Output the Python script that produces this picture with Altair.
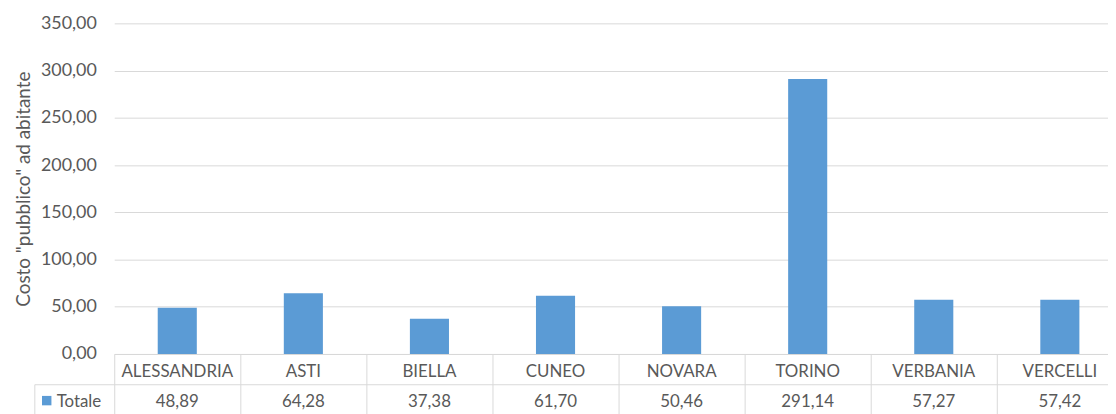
import altair as alt
import pandas as pd

categories = ["ALESSANDRIA", "ASTI", "BIELLA", "CUNEO", "NOVARA", "TORINO", "VERBANIA", "VERCELLI"]
values = [48.89, 64.28, 37.38, 61.70, 50.46, 291.14, 57.27, 57.42]
value_labels = ["48,89", "64,28", "37,38", "61,70", "50,46", "291,14", "57,27", "57,42"]
series_name = "Totale"
y_title = 'Costo "pubblico" ad abitante'

df = pd.DataFrame({"cat": categories, "val": values, "lab": value_labels})

W, H = 1001, 333
BAND_RANGE = 1016
FONT = "Lato"
GRAY = "#595959"
LINE = "#d9d9d9"
BAR = "#5B9BD5"

xscale = alt.Scale(domain=categories, range=[0, BAND_RANGE], paddingInner=0, paddingOuter=0)

base = alt.Chart(df)

bars = base.mark_bar(color=BAR, width=alt.RelativeBandSize(0.31)).encode(
    x=alt.X("cat:N", scale=xscale, sort=categories,
            axis=alt.Axis(title=None, labels=False, ticks=True, tickBand="extent",
                          tickSize=62, tickColor=LINE, domainColor=LINE, grid=False)),
    y=alt.Y("val:Q", scale=alt.Scale(domain=[0, 350], nice=False),
            axis=alt.Axis(title=y_title, values=list(range(0, 351, 50)),
                          labelExpr="replace(format(datum.value, '.2f'), '.', ',')",
                          labelFont=FONT, labelFontSize=18, labelColor=GRAY,
                          labelPadding=18, ticks=False, domain=False,
                          gridColor=LINE, titleFont=FONT, titleFontSize=19,
                          titleColor=GRAY, titleFontWeight="normal", titlePadding=7)),
)

cat_text = base.mark_text(font=FONT, fontSize=17, color=GRAY, baseline="middle").encode(
    x=alt.X("cat:N", scale=xscale, sort=categories),
    y=alt.value(H + 18),
    text="cat:N",
)

val_text = base.mark_text(font=FONT, fontSize=17, color=GRAY, baseline="middle").encode(
    x=alt.X("cat:N", scale=xscale, sort=categories),
    y=alt.value(H + 48),
    text="lab:N",
)

hline = alt.Chart(pd.DataFrame({"a": [0]})).mark_rule(color=LINE).encode(
    x=alt.value(-80), x2=alt.value(BAND_RANGE), y=alt.value(H + 31)
)
vline = alt.Chart(pd.DataFrame({"a": [0]})).mark_rule(color=LINE).encode(
    x=alt.value(-80), y=alt.value(H + 31), y2=alt.value(H + 70)
)
legend_sq = alt.Chart(pd.DataFrame({"a": [0]})).mark_square(color=BAR, opacity=1, size=90).encode(
    x=alt.value(-68), y=alt.value(H + 47)
)
legend_txt = alt.Chart(pd.DataFrame({"t": [series_name]})).mark_text(
    font=FONT, fontSize=17, color=GRAY, align="left", baseline="middle"
).encode(x=alt.value(-58), y=alt.value(H + 48), text="t:N")

chart = alt.layer(bars, cat_text, val_text, hline, vline, legend_sq, legend_txt).properties(
    width=W, height=H,
    autosize=alt.AutoSizeParams(type="none"),
    padding={"left": 107, "top": 14, "right": 0, "bottom": 59},
).configure(background="white", view=alt.ViewConfig(stroke=None))

chart.save("out.html", embed_options={"renderer": "svg", "actions": False})
